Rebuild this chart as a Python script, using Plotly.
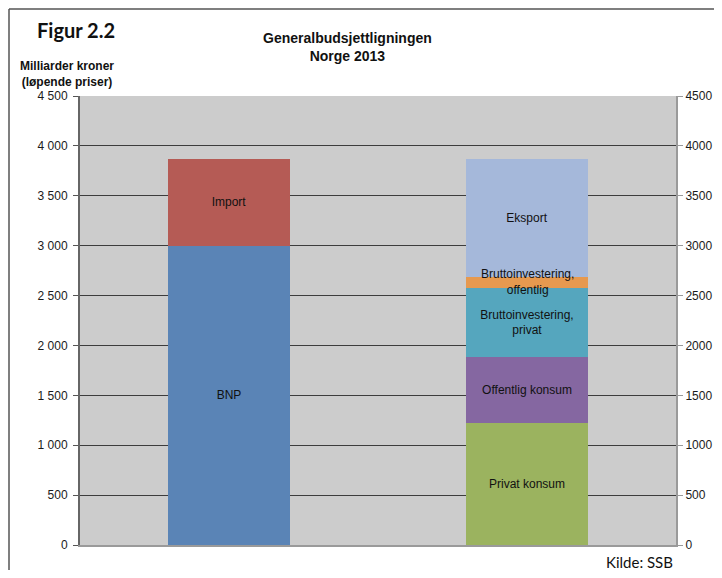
import plotly.graph_objects as go

# Generalbudsjettligningen, Norge 2013 (milliarder kroner, løpende priser)
kategorier = ["Tilgang", "Anvendelse"]

tilgang_navn = ["BNP", "Import"]
tilgang_verdi = [3000, 866]
tilgang_farge = ["#5A84B6", "#B55B55"]

anvendelse_navn = [
    "Privat konsum",
    "Offentlig konsum",
    "Bruttoinvestering,<br>privat",
    "Bruttoinvestering,<br>offentlig",
    "Eksport",
]
anvendelse_verdi = [1226, 661, 689, 113, 1177]
anvendelse_farge = ["#9BB35F", "#8567A1", "#55A6BE", "#E6994F", "#A5B8DA"]

tick_verdier = [0, 500, 1000, 1500, 2000, 2500, 3000, 3500, 4000, 4500]
tick_venstre = ["0", "500", "1 000", "1 500", "2 000", "2 500", "3 000", "3 500", "4 000", "4 500"]
tick_hoyre = ["0", "500", "1000", "1500", "2000", "2500", "3000", "3500", "4000", "4500"]

tekstfont = dict(family="Liberation Sans, Arial", size=12, color="#111111")

fig = go.Figure()


def legg_til(kategori, navn, verdi, farge, vis_tekst=True):
    fig.add_trace(go.Bar(
        x=[kategori],
        y=[verdi],
        name=navn,
        text=[navn],
        textposition="inside" if vis_tekst else "none",
        insidetextanchor="middle",
        textfont=tekstfont,
        marker=dict(color=farge, line=dict(width=0)),
        hoverinfo="name+y",
        showlegend=False,
    ))


for n, v, c in zip(tilgang_navn, tilgang_verdi, tilgang_farge):
    legg_til(kategorier[0], n, v, c)
for i, (n, v, c) in enumerate(zip(anvendelse_navn, anvendelse_verdi, anvendelse_farge)):
    # den tynne oransje delen får etiketten som annotasjon (over neste segment)
    legg_til(kategorier[1], n, v, c, vis_tekst=(i != 3))

midt = sum(anvendelse_verdi[:3]) + anvendelse_verdi[3] / 2
fig.add_annotation(
    x=kategorier[1], y=midt, text=anvendelse_navn[3], showarrow=False,
    font=tekstfont, align="center", yanchor="middle",
)

# usynlig spor for å vise høyre akse
fig.add_trace(go.Scatter(
    x=[kategorier[0]], y=[0], yaxis="y2", mode="markers",
    marker=dict(opacity=0), showlegend=False, hoverinfo="skip",
))

# plottområdet ligger fra x=80 til 676 og y=96 til 545 i vinduet
B = 596
H = 449

ramme = "#555555"
fig.update_layout(
    width=706,
    height=562,
    barmode="stack",
    bargap=0.59,
    paper_bgcolor="white",
    plot_bgcolor="#CCCCCC",
    margin=dict(l=72, r=38, t=88, b=25),
    uniformtext=dict(mode="show", minsize=12),
    font=dict(family="Liberation Sans, Arial", size=12, color="#222222"),
    xaxis=dict(
        showticklabels=False, ticks="", showgrid=False, automargin=False,
        showline=True, linecolor="#9A9A9A", linewidth=2,
    ),
    yaxis=dict(
        range=[0, 4500], tickvals=tick_verdier, ticktext=tick_venstre,
        showgrid=True, gridcolor="#3C3C3C", gridwidth=1.3, automargin=False,
        zeroline=False, showline=True, linecolor="#666666", linewidth=2,
        ticks="outside", ticklen=5, tickcolor="#555555",
        ticklabelstandoff=3,
        tickfont=dict(size=12, color="#1A1A1A"),
    ),
    yaxis2=dict(
        range=[0, 4500], tickvals=tick_verdier, ticktext=tick_hoyre,
        overlaying="y", side="right", showgrid=False, zeroline=False,
        automargin=False,
        showline=True, linecolor="#9A9A9A", linewidth=2,
        ticks="outside", ticklen=5, tickcolor="#9A9A9A",
        ticklabelstandoff=0,
        tickfont=dict(size=12, color="#1A1A1A"),
    ),
)

fig.add_annotation(
    text="<b>Generalbudsjettligningen<br>Norge 2013</b>",
    xref="paper", yref="paper", x=(347 - 80) / B, y=(545 - 47) / H,
    xanchor="center", yanchor="middle", showarrow=False,
    font=dict(family="Liberation Sans, Arial", size=14, color="#111111"),
)
fig.add_annotation(
    text="<b>Figur 2.2</b>",
    xref="paper", yref="paper", x=(35 - 80) / B, y=(545 - 30) / H,
    xanchor="left", yanchor="middle", showarrow=False,
    font=dict(family="Lato, Open Sans", size=20, color="#111111"),
)
fig.add_annotation(
    text="<b>Milliarder kroner<br>(løpende priser)</b>",
    xref="paper", yref="paper", x=(67 - 80) / B, y=(545 - 74) / H,
    xanchor="center", yanchor="middle", showarrow=False, align="center",
    font=dict(family="Liberation Sans, Arial", size=12, color="#111111"),
)
fig.add_annotation(
    text="Kilde: SSB",
    xref="paper", yref="paper", x=(675 - 80) / B, y=(545 - 562) / H,
    xanchor="right", yanchor="middle", showarrow=False,
    font=dict(family="Lato, Open Sans", size=15, color="#111111"),
)

# ramme rundt figuren (venstre og øverst)
kant_x = (9 - 80) / B
kant_y = (545 - 9) / H
fig.add_shape(type="line", xref="paper", yref="paper",
              x0=kant_x, x1=kant_x, y0=kant_y, y1=(545 - 590) / H,
              line=dict(color=ramme, width=1.5))
fig.add_shape(type="line", xref="paper", yref="paper",
              x0=kant_x, x1=(730 - 80) / B, y0=kant_y, y1=kant_y,
              line=dict(color=ramme, width=1.5))

fig.write_html("out.html")
